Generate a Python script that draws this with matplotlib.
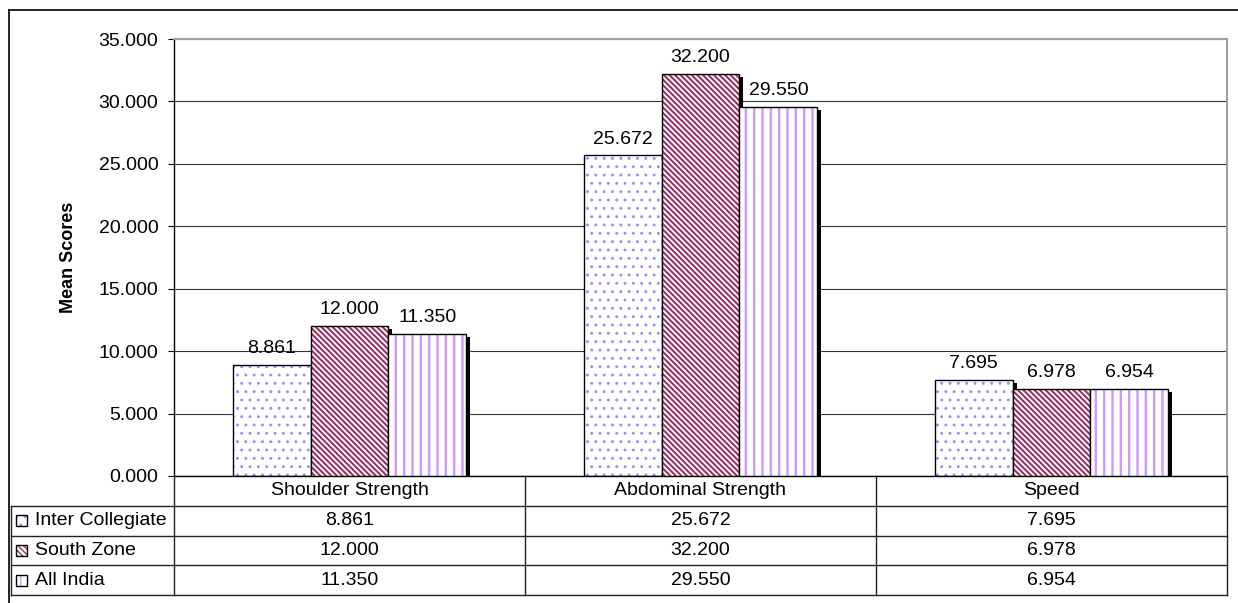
import matplotlib
matplotlib.use("Agg")
import matplotlib.pyplot as plt
import matplotlib.transforms as mtrans
from matplotlib.patches import Rectangle
from matplotlib.lines import Line2D
import numpy as np

plt.rcParams['font.family'] = ['Liberation Sans', 'DejaVu Sans']

categories = ["Shoulder Strength", "Abdominal Strength", "Speed"]
series_names = ["Inter Collegiate", "South Zone", "All India"]
inter_collegiate = [8.861, 25.672, 7.695]
south_zone = [12.000, 32.200, 6.978]
all_india = [11.350, 29.550, 6.954]
yticks = [0, 5, 10, 15, 20, 25, 30, 35]

series = [inter_collegiate, south_zone, all_india]
hatch_colors = ["#8f8fff", "#993366", "#cc99ff"]
BS = chr(92)
hatches = ["..", BS * 6, "||"]
hatch_lws = [0.9, 1.5, 1.7]
FS = 14

W, H = 1238, 603
fig = plt.figure(figsize=(W / 100, H / 100), dpi=100)

# outer frame (left & top visible)
fig.add_artist(Line2D([8.5 / W, 8.5 / W], [0, 1 - 10 / H], transform=fig.transFigure, color='black', lw=1.2))
fig.add_artist(Line2D([8.5 / W, 1], [1 - 10 / H, 1 - 10 / H], transform=fig.transFigure, color='black', lw=1.2))

ax_l, ax_r, ax_t, ax_b = 174, 1227, 39, 476
ax = fig.add_axes([ax_l / W, (H - ax_b) / H, (ax_r - ax_l) / W, (ax_b - ax_t) / H])

bar_w = 0.2222
x = np.arange(len(categories))
px_per_cat = (ax_r - ax_l) / 3.0
px_per_unit = (ax_b - ax_t) / 35.0
dx = 4.0 / px_per_cat
dy = 3.0 / px_per_unit

for j, vals in enumerate(series):
    offs = (j - 1) * bar_w
    for i, v in enumerate(vals):
        xc = x[i] + offs
        # shadow
        ax.add_patch(Rectangle((xc - bar_w / 2 + dx, 0), bar_w, v - dy, facecolor='black',
                               edgecolor='none', zorder=2 + j))
    bars = ax.bar(x + offs, vals, width=bar_w, facecolor='white', edgecolor=hatch_colors[j],
                  linewidth=0, hatch=hatches[j], zorder=2.3 + j)
    for b in bars:
        if hasattr(b, 'set_hatch_linewidth'):
            b.set_hatch_linewidth(hatch_lws[j])
    ax.bar(x + offs, vals, width=bar_w, fill=False, edgecolor='black', linewidth=1.0, zorder=2.6 + j)
    for i, v in enumerate(vals):
        ax.annotate(f"{v:.3f}", (x[i] + offs, v), xytext=(0, 8.6), textcoords='offset points',
                    ha='center', va='baseline', fontsize=FS, zorder=10)

ax.set_xlim(-0.5, 2.5)
ax.set_ylim(0, 35)
ax.set_yticks(yticks)
ax.set_yticklabels([f"{t:.3f}" for t in yticks], fontsize=FS)
ax.set_xticks([])
ax.tick_params(axis='y', direction='out', length=4.3, width=0.8, pad=7)
ax.yaxis.grid(True, color='#333333', linewidth=0.8)
ax.set_axisbelow(True)
for s in ['top', 'right']:
    ax.spines[s].set_color('#a0a0a0')
    ax.spines[s].set_linewidth(1.5)
ax.spines['left'].set_linewidth(1.0)
ax.spines['bottom'].set_linewidth(1.0)
ax.set_ylabel("Mean Scores", fontsize=13, fontweight='bold')
ax.yaxis.set_label_coords((77 - ax_l) / (ax_r - ax_l), 0.5)

# data table
t_l, t_b = 11, 595
tax = fig.add_axes([t_l / W, (H - t_b) / H, (ax_r - t_l) / W, (t_b - ax_b) / H])
L = 3.0 * (ax_l - t_l) / (ax_r - ax_l)
tax.set_xlim(-L, 3)
tax.set_ylim(0, 4)
tax.axis('off')

lc = '#222222'
for yy in [0, 1, 2, 3]:
    tax.plot([-L, 3], [yy, yy], color=lc, lw=1.0, clip_on=False)
tax.plot([-L, -L], [0, 3], color=lc, lw=1.0, clip_on=False)
for xx in [0, 1, 2, 3]:
    tax.plot([xx, xx], [0, 4], color=lc, lw=1.0, clip_on=False)

for i, c in enumerate(categories):
    tax.text(i + 0.5, 3.5, c, ha='center', va='center', fontsize=FS)

blend = mtrans.blended_transform_factory(fig.dpi_scale_trans, tax.transData)
for j, (name, vals) in enumerate(zip(series_names, series)):
    yc = 2.5 - j
    tax.text(35 / 100, yc, name, ha='left', va='center', fontsize=FS, transform=blend)
    for i, v in enumerate(vals):
        tax.text(i + 0.5, yc, f"{v:.3f}", ha='center', va='center', fontsize=FS)
    ydisp = tax.transData.transform((0, yc))[1] / fig.dpi
    k1 = Rectangle((16 / 100, ydisp - 5.5 / 100), 11 / 100, 11 / 100, transform=fig.dpi_scale_trans,
                   facecolor='white', edgecolor=hatch_colors[j], linewidth=0, hatch=hatches[j])
    fig.add_artist(k1)
    k2 = Rectangle((16 / 100, ydisp - 5.5 / 100), 11 / 100, 11 / 100, transform=fig.dpi_scale_trans,
                   fill=False, edgecolor='black', linewidth=1.0)
    fig.add_artist(k2)

fig.savefig("out.png", dpi=100)
